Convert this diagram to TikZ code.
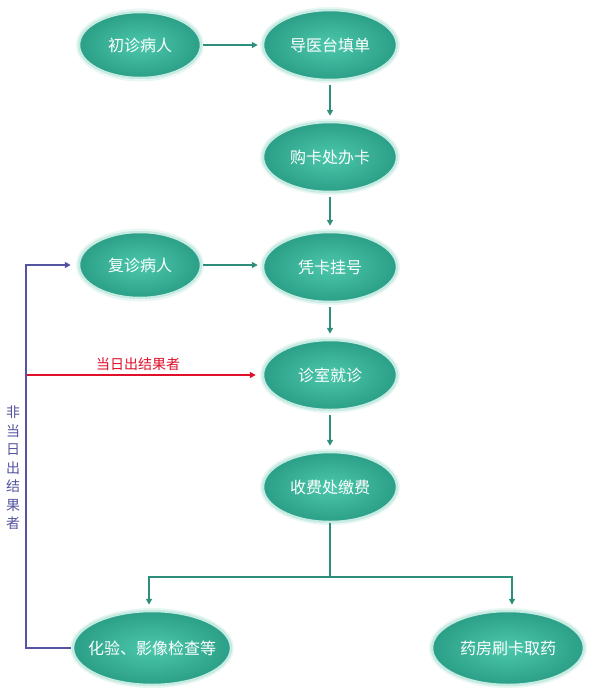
\documentclass[tikz,border=0pt]{standalone}
\usepackage{fontspec}
\setmainfont{Noto Sans CJK SC}
\usetikzlibrary{shapes.geometric,arrows.meta}
\definecolor{tealin}{HTML}{4CC8AC}
\definecolor{tealout}{HTML}{2B9F87}
\definecolor{mint}{HTML}{C6EBE2}
\definecolor{glow}{HTML}{E8F7F3}
\definecolor{arrteal}{HTML}{2E8E7C}
\definecolor{purp}{HTML}{5454A0}
\definecolor{navy}{HTML}{1E1E80}
\definecolor{redl}{HTML}{E0102A}
\begin{document}
\begin{tikzpicture}[x=1pt,y=-1pt]
\useasboundingbox (0,0) rectangle (591,689);
\tikzset{
  proc/.style={ellipse, minimum width=#1, minimum height=66pt, inner sep=0pt,
    draw=mint, line width=2.5pt, inner color=tealin, outer color=tealout,
    text=white, font=\fontsize{16}{18}\selectfont},
  halo/.style={ellipse, minimum width=#1, minimum height=71pt, draw=glow, line width=2pt},
  arr/.style={draw=arrteal, line width=1.3pt, -{Triangle[length=6pt,width=6pt]}},
  purparr/.style={draw=purp, line width=1.5pt, -{Triangle[length=6pt,width=6pt,fill=navy]}},
  redarr/.style={draw=redl, line width=1.5pt, -{Triangle[length=6pt,width=6pt]}},
}
% halos
\node[halo=126pt] at (140,45) {};
\node[halo=138pt, minimum height=74pt] at (330,45) {};
\node[halo=138pt, minimum height=74pt] at (330,157) {};
\node[halo=126pt] at (140,265) {};
\node[halo=138pt, minimum height=74pt] at (330,267) {};
\node[halo=138pt, minimum height=74pt] at (330,375) {};
\node[halo=138pt, minimum height=74pt] at (330,487) {};
\node[halo=162pt, minimum height=78pt] at (152,648) {};
\node[halo=156pt, minimum height=78pt] at (508,648) {};
% nodes
\node[proc=122pt] (cz) at (140,45) {\makebox[0pt]{初诊病人}};
\node[proc=134pt, minimum height=70pt] (dy) at (330,45) {\makebox[0pt]{导医台填单}};
\node[proc=134pt, minimum height=70pt] (gk) at (330,157) {\makebox[0pt]{购卡处办卡}};
\node[proc=122pt] (fz) at (140,265) {\makebox[0pt]{复诊病人}};
\node[proc=134pt, minimum height=70pt] (pk) at (330,267) {\makebox[0pt]{凭卡挂号}};
\node[proc=134pt, minimum height=70pt] (zs) at (330,375) {\makebox[0pt]{诊室就诊}};
\node[proc=134pt, minimum height=70pt] (sf) at (330,487) {\makebox[0pt]{收费处缴费}};
\node[proc=158pt, minimum height=74pt] (hy) at (152,648) {\makebox[0pt]{化验、影像检查等}};
\node[proc=152pt, minimum height=74pt] (yf) at (508,648) {\makebox[0pt]{药房刷卡取药}};
% teal arrows
\draw[arr, shorten <=1pt, shorten >=4pt] (cz) -- (dy);
\draw[arr, shorten <=1pt, shorten >=4pt] (fz.east) -- (fz.east -| pk.west);
\draw[arr, shorten <=4pt, shorten >=5pt] (dy) -- (gk);
\draw[arr, shorten <=4pt, shorten >=5pt] (gk) -- (pk);
\draw[arr, shorten <=4pt, shorten >=5pt] (pk) -- (zs);
\draw[arr, shorten <=4pt, shorten >=5pt] (zs) -- (sf);
\coordinate (bm) at (330,577);
\coordinate (bl) at (149,577);
\coordinate (br) at (512,577);
\draw[draw=arrteal, line width=1.3pt] (sf.south) -- (bm);
\draw[arr, shorten >=5pt] (bm) -- (bl) -- (bl |- hy.north);
\draw[arr, shorten >=5pt] (bm) -- (br) -- (br |- yf.north);
% purple loop
\coordinate (pl) at (26,648);
\draw[purparr, shorten >=7pt, shorten <=1pt] (hy.west) -- (pl) |- (fz.west);
\node[text=purp, font=\fontsize{14}{18.5}\selectfont, align=center, inner sep=0pt] (fl) at (13,468) {非\\当\\日\\出\\结\\果\\者};
% red
\coordinate (rl) at (27,375);
\draw[redarr, shorten >=6pt] (rl) -- (zs.west);
\node[text=redl, font=\fontsize{14}{16}\selectfont, inner sep=0pt] (rlab) at (138,364) {当日出结果者};
\end{tikzpicture}
\end{document}
